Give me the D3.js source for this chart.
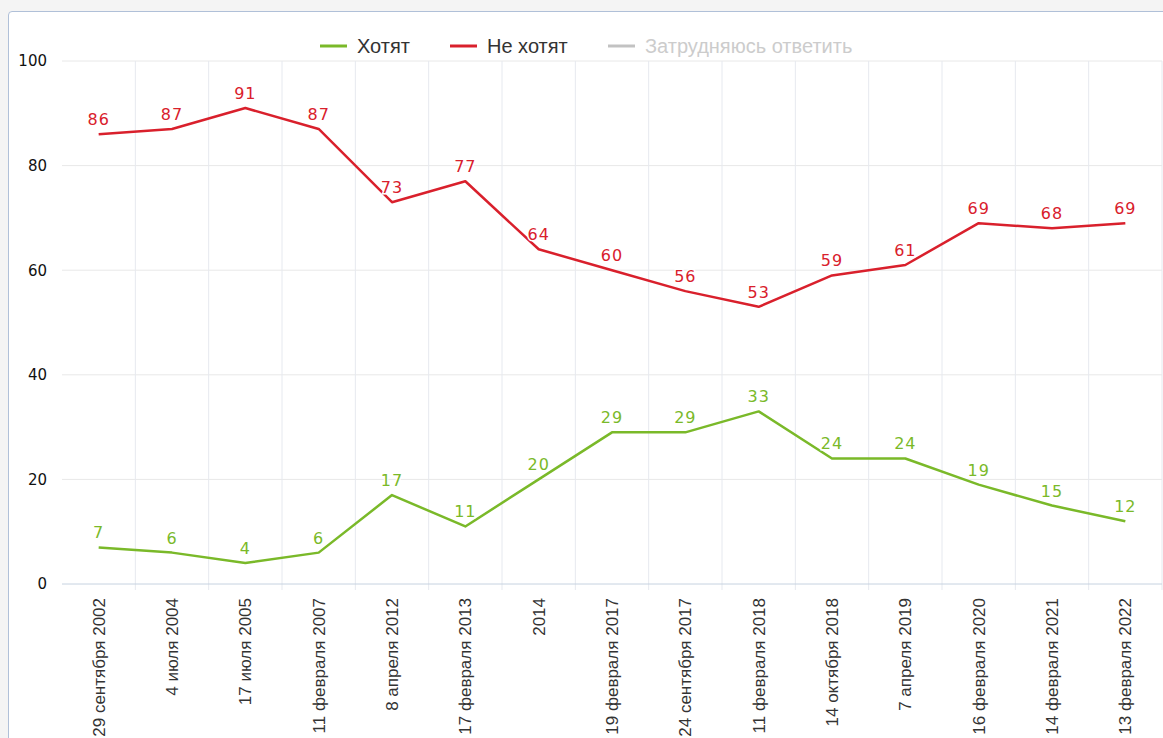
<!DOCTYPE html>
<html>
<head>
<meta charset="utf-8">
<script src="https://cdn.jsdelivr.net/npm/d3@7/dist/d3.min.js"></script>
<style>
  body { margin: 0; background: #f4f4f4; overflow: hidden; }
  .panel { position: absolute; left: 8px; top: 11px; width: 1170px; height: 740px;
           background: #fff; border: 1px solid #b0c0d8; border-radius: 4px; }
  svg { position: absolute; left: 0; top: 0; }
</style>
</head>
<body>
<div class="panel"></div>
<script>
var width = 1163, height = 738;
var categories = ['29 сентября 2002', '4 июля 2004', '17 июля 2005', '11 февраля 2007',
  '8 апреля 2012', '17 февраля 2013', '2014', '19 февраля 2017', '24 сентября 2017',
  '11 февраля 2018', '14 октября 2018', '7 апреля 2019', '16 февраля 2020',
  '14 февраля 2021', '13 февраля 2022'];
var want = [7, 6, 4, 6, 17, 11, 20, 29, 29, 33, 24, 24, 19, 15, 12];
var dontWant = [86, 87, 91, 87, 73, 77, 64, 60, 56, 53, 59, 61, 69, 68, 69];
var yTicks = [0, 20, 40, 60, 80, 100];
var seriesNames = ['Хотят', 'Не хотят', 'Затрудняюсь ответить'];
var seriesColors = ['#7ab929', '#d9202c', '#c2c2c2'];

var mLeft = 62, mRight = 1162, mTop = 61, mBottom = 584;

var svg = d3.select('body').append('svg')
    .attr('width', width)
    .attr('height', height);

var x = d3.scaleBand().domain(categories).range([mLeft, mRight]);
var y = d3.scaleLinear().domain([0, 100]).range([mBottom, mTop]);

// horizontal grid
svg.selectAll('.hgrid')
    .data(yTicks.filter(function(d) { return d > 0; }))
    .enter().append('line')
    .attr('class', 'hgrid')
    .attr('x1', mLeft).attr('x2', mRight)
    .attr('y1', function(d) { return y(d); })
    .attr('y2', function(d) { return y(d); })
    .style('stroke', '#e8e8e8')
    .style('stroke-width', 1);

// vertical grid at band boundaries
svg.selectAll('.vgrid')
    .data(categories)
    .enter().append('line')
    .attr('class', 'vgrid')
    .attr('x1', function(d) { return x(d) + x.bandwidth(); })
    .attr('x2', function(d) { return x(d) + x.bandwidth(); })
    .attr('y1', mTop).attr('y2', mBottom + 6)
    .style('stroke', '#e6e9ef')
    .style('stroke-width', 1);

// baseline
svg.append('line')
    .attr('x1', mLeft).attr('x2', mRight)
    .attr('y1', y(0)).attr('y2', y(0))
    .style('stroke', '#c6d2e0')
    .style('stroke-width', 1);

// y labels
var yAxis = d3.axisLeft(y).tickValues(yTicks).tickSize(0).tickPadding(15);
var ya = svg.append('g')
    .attr('transform', 'translate(' + mLeft + ',0)')
    .call(yAxis);
ya.select('.domain').remove();
ya.selectAll('text')
    .style('font-family', 'DejaVu Sans, Verdana, sans-serif')
    .style('font-size', '15px')
    .style('fill', '#111');

// x labels
var xAxis = d3.axisBottom(x).tickSize(0).tickPadding(0);
var xa = svg.append('g')
    .attr('transform', 'translate(0,' + mBottom + ')')
    .call(xAxis);
xa.select('.domain').remove();
xa.selectAll('text')
    .attr('transform', 'translate(0,14) rotate(-90)')
    .attr('text-anchor', 'end')
    .attr('dy', '0.35em')
    .attr('y', 0)
    .style('font-family', 'Liberation Sans, Arial, sans-serif')
    .style('font-size', '17px')
    .style('fill', '#333');

function cx(d, i) { return x(categories[i]) + x.bandwidth() / 2; }

var line = d3.line()
    .x(function(d, i) { return cx(d, i); })
    .y(function(d) { return y(d); });

[want, dontWant].forEach(function(values, k) {
  svg.append('path')
      .datum(values)
      .attr('d', line)
      .style('fill', 'none')
      .style('stroke', seriesColors[k])
      .style('stroke-width', 2.5)
      .style('stroke-linejoin', 'round');

  svg.selectAll('.lbl' + k)
      .data(values)
      .enter().append('text')
      .attr('class', 'lbl' + k)
      .attr('x', function(d, i) { return cx(d, i); })
      .attr('y', function(d) { return y(d) - 9; })
      .attr('text-anchor', 'middle')
      .style('font-family', 'DejaVu Sans, Verdana, sans-serif')
      .style('font-size', '16px')
      .style('letter-spacing', '1px')
      .style('fill', seriesColors[k])
      .style('stroke', '#fff')
      .style('stroke-width', 3)
      .style('paint-order', 'stroke')
      .text(function(d) { return d; });
});

// legend
var legendX = [320, 450, 608];
var legend = svg.selectAll('.legend')
    .data(seriesNames)
    .enter().append('g')
    .attr('class', 'legend')
    .attr('transform', function(d, i) { return 'translate(' + legendX[i] + ',46)'; });
legend.append('line')
    .attr('x1', 0).attr('x2', 27)
    .style('stroke', function(d, i) { return seriesColors[i]; })
    .style('stroke-width', 3);
legend.append('text')
    .attr('x', 37)
    .attr('dy', '0.35em')
    .style('font-family', 'Liberation Sans, Arial, sans-serif')
    .style('font-size', '20px')
    .style('fill', function(d, i) { return i == 2 ? '#cccccc' : '#333'; })
    .text(function(d) { return d; });
</script>
</body>
</html>
